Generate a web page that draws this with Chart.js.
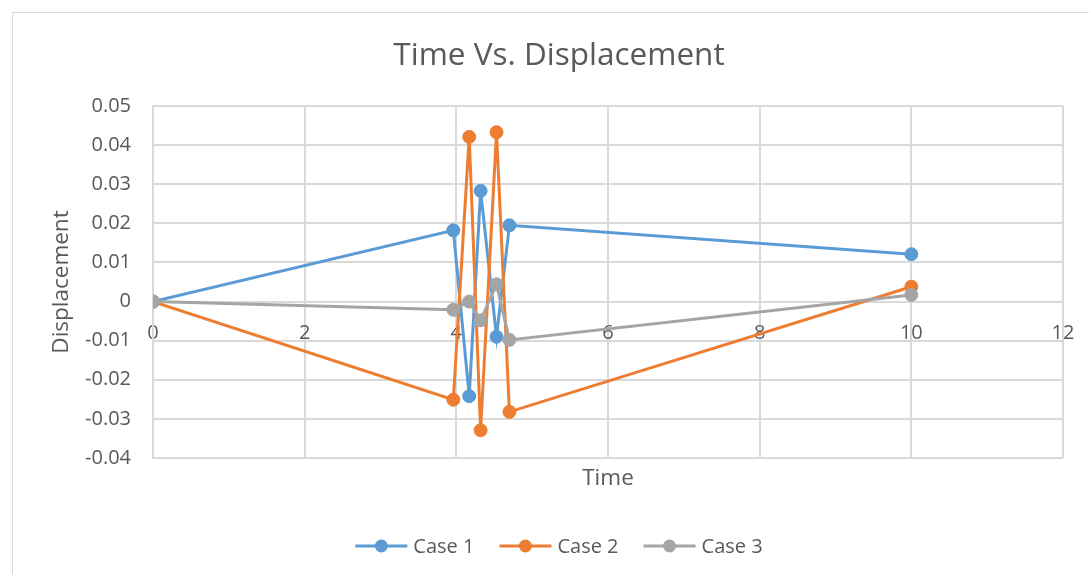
<!DOCTYPE html>
<html>
<head>
<meta charset="utf-8">
<title>Time Vs. Displacement</title>
<script src="https://cdn.jsdelivr.net/npm/chart.js@4.4.0/dist/chart.umd.min.js"></script>
<style>
  html, body { margin: 0; padding: 0; background: #fff; overflow: hidden; width: 1089px; height: 574px; }
  #frame { position: absolute; left: 12px; top: 12px; width: 1120px; height: 620px; border: 1px solid #d9d9d9; box-sizing: border-box; }
  #wrap { position: absolute; left: 0; top: 0; width: 1111px; height: 574px; }
</style>
</head>
<body>
<div id="frame"></div>
<div id="wrap"><canvas id="chart" width="1111" height="574"></canvas></div>
<script>
// Sample times (s) shared by all three cases
const times = [0, 3.96, 4.17, 4.32, 4.53, 4.70, 10];

// Displacement per case
const case1 = [0, 0.0182, -0.0242, 0.0283, -0.0090, 0.0195, 0.0121];
const case2 = [0, -0.0251, 0.0421, -0.0329, 0.0433, -0.0282, 0.0038];
const case3 = [0, -0.0021, 0.0000, -0.0048, 0.0044, -0.0098, 0.0017];

const seriesNames = ['Case 1', 'Case 2', 'Case 3'];
const seriesColors = ['#5B9BD5', '#ED7D31', '#A5A5A5'];

// Axis ranges and tick steps
const xRange = [0, 12];
const xStep = 2;
const yRange = [-0.04, 0.05];
const yStep = 0.01;

const TEXT = '#595959';
const GRID = '#d9d9d9';
const FONT = "'Open Sans', sans-serif";

function toPoints(values) {
  return times.map((t, i) => ({ x: t, y: values[i] }));
}

// Legend row: line-with-marker icon followed by the series name
const caseLegend = {
  id: 'caseLegend',
  afterDraw(chart) {
    const { ctx } = chart;
    const tb = chart.titleBlock;
    const cx = (tb.left + tb.right) / 2;
    const cy = chart.chartArea.bottom + 88;
    const iconW = 52, gap = 6, itemGap = 25;
    ctx.save();
    ctx.font = '20px ' + FONT;
    ctx.textBaseline = 'middle';
    ctx.textAlign = 'left';
    const items = chart.data.datasets.map(ds => ({
      label: ds.label,
      color: ds.borderColor,
      w: ctx.measureText(ds.label).width
    }));
    const total = items.reduce((s, it) => s + iconW + gap + it.w, 0) + itemGap * (items.length - 1);
    let x = cx - total / 2;
    items.forEach(it => {
      ctx.strokeStyle = it.color;
      ctx.lineWidth = 3;
      ctx.beginPath();
      ctx.moveTo(x, cy);
      ctx.lineTo(x + iconW, cy);
      ctx.stroke();
      ctx.fillStyle = it.color;
      ctx.beginPath();
      ctx.arc(x + iconW / 2, cy, 6.5, 0, Math.PI * 2);
      ctx.fill();
      ctx.fillStyle = TEXT;
      ctx.fillText(it.label, x + iconW + gap, cy + 1);
      x += iconW + gap + it.w + itemGap;
    });
    ctx.restore();
  }
};

function build() {
  Chart.defaults.font.family = FONT;
  Chart.defaults.color = TEXT;

  const datasets = [case1, case2, case3].map((vals, i) => ({
    label: seriesNames[i],
    data: toPoints(vals),
    showLine: true,
    borderColor: seriesColors[i],
    backgroundColor: seriesColors[i],
    borderWidth: 3,
    pointRadius: 6.5,
    pointHoverRadius: 6.5,
    pointBorderWidth: 1,
    pointBackgroundColor: seriesColors[i],
    pointBorderColor: seriesColors[i],
    order: 3 - i,
    tension: 0
  }));

  new Chart(document.getElementById('chart'), {
    type: 'scatter',
    data: { datasets },
    plugins: [caseLegend],
    options: {
      responsive: false,
      animation: false,
      devicePixelRatio: 1,
      layout: { padding: { top: 12, left: 12, right: 5, bottom: 81.5 } },
      plugins: {
        legend: { display: false },
        tooltip: { enabled: false },
        title: {
          display: true,
          text: 'Time Vs. Displacement',
          color: TEXT,
          font: { size: 31.5, weight: 'normal', family: FONT },
          padding: { top: 25, bottom: 31.2 }
        }
      },
      scales: {
        x: {
          type: 'linear',
          min: xRange[0],
          max: xRange[1],
          position: { y: 0 },
          ticks: {
            stepSize: xStep,
            color: TEXT,
            font: { size: 20 },
            padding: 20,
            maxRotation: 0
          },
          grid: { color: GRID, lineWidth: 2, drawTicks: false },
          border: { color: GRID, width: 2 }
        },
        x2: {
          type: 'linear',
          min: xRange[0],
          max: xRange[1],
          position: 'bottom',
          ticks: { display: false },
          grid: { display: false, drawTicks: false },
          border: { display: false },
          title: {
            display: true,
            text: 'Time',
            color: TEXT,
            font: { size: 22.5 },
            padding: { top: 7.5, bottom: 0 }
          }
        },
        y: {
          type: 'linear',
          min: yRange[0],
          max: yRange[1],
          position: 'left',
          ticks: {
            stepSize: yStep,
            color: TEXT,
            font: { size: 20 },
            padding: 22,
            callback: v => String(Number(v.toFixed(2)))
          },
          grid: { color: GRID, lineWidth: 2, drawTicks: false },
          border: { color: GRID, width: 2 },
          title: {
            display: true,
            text: 'Displacement',
            color: TEXT,
            font: { size: 22.5 },
            padding: { top: 36.5, bottom: 0 }
          },
          afterFit: s => { s.width = 141; }
        },
        yR: {
          type: 'linear',
          position: 'right',
          min: yRange[0],
          max: yRange[1],
          ticks: { display: false },
          grid: { display: false, drawTicks: false },
          border: { display: false },
          afterFit: s => { s.width = 43; }
        }
      }
    }
  });
}

if (document.fonts && document.fonts.load) {
  Promise.all([
    document.fonts.load("20px 'Open Sans'"),
    document.fonts.load("31px 'Open Sans'")
  ]).then(build, build);
} else {
  build();
}
</script>
</body>
</html>
